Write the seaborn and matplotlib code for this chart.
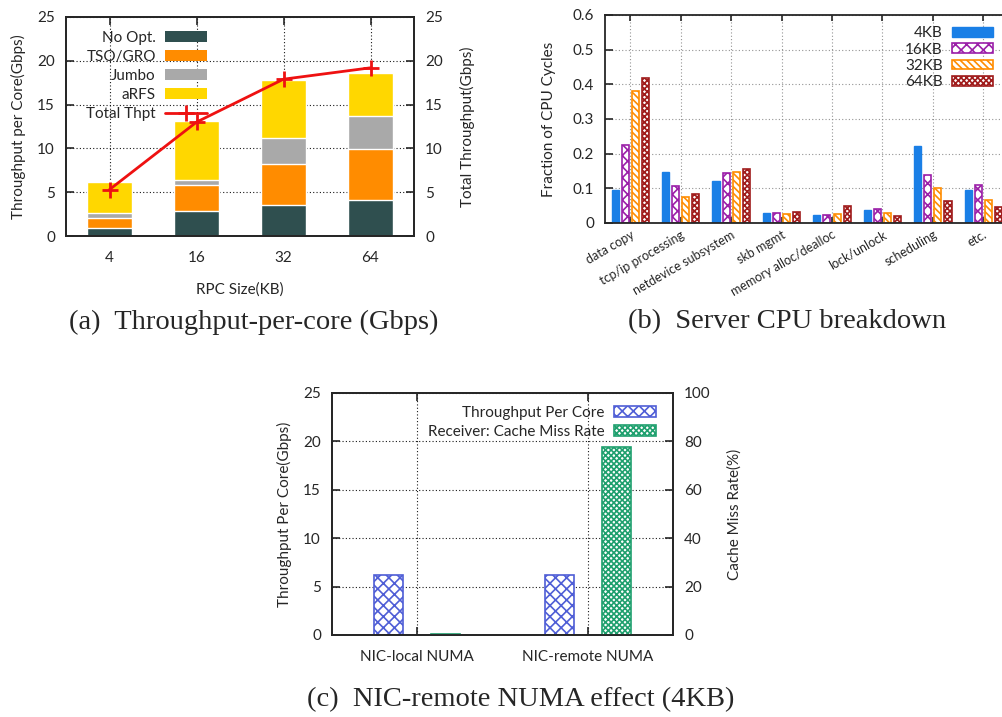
import numpy as np
import pandas as pd
import matplotlib
matplotlib.use("Agg")
import matplotlib.pyplot as plt
import seaborn as sns
from matplotlib.patches import Patch
from matplotlib.lines import Line2D

# ---------------- data ----------------
rpc_sizes = ["4", "16", "32", "64"]
no_opt = [0.9, 2.8, 3.5, 4.1]
tso_gro = [1.1, 3.0, 4.7, 5.8]
jumbo = [0.6, 0.6, 3.0, 3.8]
arfs = [3.6, 6.7, 6.6, 4.9]
total_thpt = [5.3, 13.0, 17.9, 19.2]

cpu_categories = ["data copy", "tcp/ip processing", "netdevice subsystem", "skb mgmt",
                  "memory alloc/dealloc", "lock/unlock", "scheduling", "etc."]
cpu_sizes = ["4KB", "16KB", "32KB", "64KB"]
cpu_4kb = [0.095, 0.147, 0.120, 0.028, 0.023, 0.037, 0.221, 0.094]
cpu_16kb = [0.225, 0.107, 0.143, 0.030, 0.023, 0.039, 0.138, 0.109]
cpu_32kb = [0.380, 0.076, 0.148, 0.027, 0.025, 0.030, 0.101, 0.066]
cpu_64kb = [0.418, 0.085, 0.155, 0.033, 0.048, 0.021, 0.063, 0.045]

numa_cats = ["NIC-local NUMA", "NIC-remote NUMA"]
numa_thpt = [6.2, 6.2]
numa_miss = [0.5, 77.5]

# ---------------- style ----------------
sns.set_theme(style="ticks")
plt.rcParams["font.family"] = ["Lato", "DejaVu Sans"]
plt.rcParams["axes.linewidth"] = 1.3
plt.rcParams["hatch.linewidth"] = 1.2
FS = 11

fig = plt.figure(figsize=(10.03, 7.17), dpi=100)
W, H = 1003.0, 717.0


def place(l, t, r, b):
    return [l / W, 1 - b / H, (r - l) / W, (b - t) / H]


def grid_style(ax, color="black", alpha=0.9):
    ax.grid(True, linestyle=(0, (1, 2)), color=color, linewidth=0.8, alpha=alpha)
    ax.set_axisbelow(True)


def right_legend(ax, handles, labels, **kw):
    leg = ax.legend(handles, labels, markerfirst=False, frameon=False, **kw)
    vp = leg._legend_box._children[-1]._children[0]
    vp.align = "right"
    return leg


TICK = dict(direction="in", labelsize=FS, length=6, pad=8, width=1.2)

# ---------------- panel (a) ----------------
axa = fig.add_axes(place(66, 17, 414, 236))
seg_names = ["No Opt.", "TSO/GRO", "Jumbo", "aRFS"]
seg_vals = [no_opt, tso_gro, jumbo, arfs]
seg_cols = ["#2f4f4f", "#ff8c00", "#a9a9a9", "#ffd700"]
cum = np.cumsum(np.array(seg_vals), axis=0)
for i in range(3, -1, -1):
    dfa = pd.DataFrame({"size": rpc_sizes, "val": cum[i]})
    sns.barplot(data=dfa, x="size", y="val", color=seg_cols[i], saturation=1,
                width=0.52, ax=axa, zorder=2)
axa.set_xlim(-0.5, 3.5)
axa.set_ylim(0, 25)
axa.set_yticks([0, 5, 10, 15, 20, 25])
axa.set_xlabel("RPC Size(KB)", fontsize=FS, labelpad=12)
axa.set_ylabel("Throughput per Core(Gbps)", fontsize=FS, labelpad=8)
grid_style(axa)
axa.tick_params(top=True, **TICK)
axa.tick_params(axis="x", pad=11)
axa.tick_params(axis="y", right=False)

axa2 = axa.twinx()
dft = pd.DataFrame({"size": rpc_sizes, "thpt": total_thpt})
sns.lineplot(data=dft, x="size", y="thpt", color="#ee1111", lw=2, marker="+",
             markersize=12, markeredgewidth=2, markeredgecolor="#ee1111", ax=axa2, zorder=5)
axa2.set_ylim(0, 25)
axa2.set_yticks([0, 5, 10, 15, 20, 25])
axa2.set_ylabel("Total Throughput(Gbps)", fontsize=FS, labelpad=12)
axa2.tick_params(**TICK)
axa2.set_xlim(-0.5, 3.5)

ha = [Patch(facecolor=c, edgecolor="none") for c in seg_cols]
ha.append(Line2D([], [], color="#ee1111", lw=2, marker="+", markersize=12, markeredgewidth=2))
right_legend(axa2, ha, seg_names + ["Total Thpt"], loc="upper right",
             bbox_to_anchor=((207 - 66) / 348, 0.937), fontsize=FS, handlelength=2.75,
             handleheight=0.65, labelspacing=0.33, handletextpad=0.6, borderaxespad=0.0,
             borderpad=0.0)

# ---------------- panel (b) ----------------
axb = fig.add_axes(place(605, 15, 1003, 223))
rows = []
for s, vals in zip(cpu_sizes, [cpu_4kb, cpu_16kb, cpu_32kb, cpu_64kb]):
    for c, v in zip(cpu_categories, vals):
        rows.append({"cat": c, "size": s, "val": v})
dfb = pd.DataFrame(rows)
b_edge = ["#1a7fe6", "#9b1fa8", "#ff8c00", "#a01c1c"]
b_hatch = [None, "xxx", "\\\\\\\\\\", "xxxxxx"]
sns.barplot(data=dfb, x="cat", y="val", hue="size", hue_order=cpu_sizes,
            palette=b_edge, saturation=1, width=0.8, gap=0.3, ax=axb, legend=False, zorder=2)
for cont, ec, hh in zip(axb.containers, b_edge, b_hatch):
    for p in cont:
        if hh is None:
            p.set_facecolor(ec)
            p.set_edgecolor(ec)
        else:
            p.set_facecolor("white")
            p.set_edgecolor(ec)
            p.set_hatch(hh)
            p.set_linewidth(1.2)
axb.set_xlim(-0.5, 7.39)
axb.set_ylim(0, 0.6)
axb.set_yticks([0, 0.1, 0.2, 0.3, 0.4, 0.5, 0.6])
axb.set_yticklabels(["0", "0.1", "0.2", "0.3", "0.4", "0.5", "0.6"])
axb.set_xlabel("")
axb.set_ylabel("Fraction of CPU Cycles", fontsize=FS, labelpad=12)
grid_style(axb, color="#888888")
axb.tick_params(top=True, **TICK)
axb.tick_params(axis="x", length=4, pad=4)
axb.set_xticks(range(len(cpu_categories)))
axb.set_xticklabels(cpu_categories, rotation=30, ha="right", rotation_mode="anchor", fontsize=9)
axb.spines["right"].set_visible(False)
hb = []
for ec, hh in zip(b_edge, b_hatch):
    if hh is None:
        hb.append(Patch(facecolor=ec, edgecolor=ec))
    else:
        hb.append(Patch(facecolor="white", edgecolor=ec, hatch=hh, linewidth=1.2))
right_legend(axb, hb, cpu_sizes, loc="upper right", bbox_to_anchor=((993 - 605) / 398, 0.946),
             fontsize=FS, handlelength=2.7, handleheight=0.6, labelspacing=0.15,
             handletextpad=0.6, borderaxespad=0.0, borderpad=0.0)

# ---------------- panel (c) ----------------
axc = fig.add_axes(place(332, 393, 673, 635))
c_labels = ["Throughput Per Core", "Receiver: Cache Miss Rate"]
c_cols = ["#4f5ed6", "#1fa06e"]
c_hatch = ["xxx", "xxxxxx"]
# each axis draws both hue slots so that seaborn dodges them; the other series is hidden
dfc1 = pd.DataFrame({"cat": numa_cats * 2, "series": [c_labels[0]] * 2 + [c_labels[1]] * 2,
                     "val": numa_thpt + [0.0, 0.0]})
dfc2 = pd.DataFrame({"cat": numa_cats * 2, "series": [c_labels[0]] * 2 + [c_labels[1]] * 2,
                     "val": [0.0, 0.0] + numa_miss})
sns.barplot(data=dfc1, x="cat", y="val", hue="series", hue_order=c_labels,
            palette=c_cols, saturation=1, width=0.667, gap=0.49, ax=axc, legend=False, zorder=2)
axc.set_xlim(-0.5, 1.5)
axc.set_ylim(0, 25)
axc.set_yticks([0, 5, 10, 15, 20, 25])
axc.set_xlabel("")
axc.set_ylabel("Throughput Per Core(Gbps)", fontsize=FS, labelpad=8)
grid_style(axc)
axc.tick_params(top=True, **TICK)
axc.tick_params(axis="x", pad=11)
axc.tick_params(axis="y", right=False)
axc2 = axc.twinx()
sns.barplot(data=dfc2, x="cat", y="val", hue="series", hue_order=c_labels,
            palette=c_cols, saturation=1, width=0.667, gap=0.49, ax=axc2, legend=False, zorder=2)
axc2.set_xlim(-0.5, 1.5)
axc2.set_ylim(0, 100)
axc2.set_yticks([0, 20, 40, 60, 80, 100])
axc2.set_ylabel("Cache Miss Rate(%)", fontsize=FS, labelpad=12)
axc2.set_xlabel("")
axc2.tick_params(**TICK)
for axx, keep in ((axc, 0), (axc2, 1)):
    for k, cont in enumerate(axx.containers):
        for p in cont:
            if k != keep:
                p.set_visible(False)
                continue
            p.set_edgecolor(c_cols[k])
            p.set_facecolor("white")
            p.set_linewidth(1.2)
            p.set_hatch(c_hatch[k])
hc = [Patch(facecolor="white", edgecolor=c, hatch=h, linewidth=1.2) for c, h in zip(c_cols, c_hatch)]
right_legend(axc2, hc, c_labels, loc="upper right", bbox_to_anchor=((656 - 332) / 341, 0.947),
             fontsize=FS, handlelength=2.75, handleheight=0.65, labelspacing=0.33,
             handletextpad=0.6, borderaxespad=0.0, borderpad=0.0)

# ---------------- captions ----------------
cap_font = dict(family=["Liberation Serif", "DejaVu Serif"], fontsize=20.5, ha="center", va="center")
fig.text(254 / W, 1 - 322 / H, "(a)  Throughput-per-core (Gbps)", **cap_font)
fig.text(787 / W, 1 - 322 / H, "(b)  Server CPU breakdown", **cap_font)
fig.text(521 / W, 1 - 700 / H, "(c)  NIC-remote NUMA effect (4KB)", **cap_font)

fig.savefig("out.png", dpi=100)
